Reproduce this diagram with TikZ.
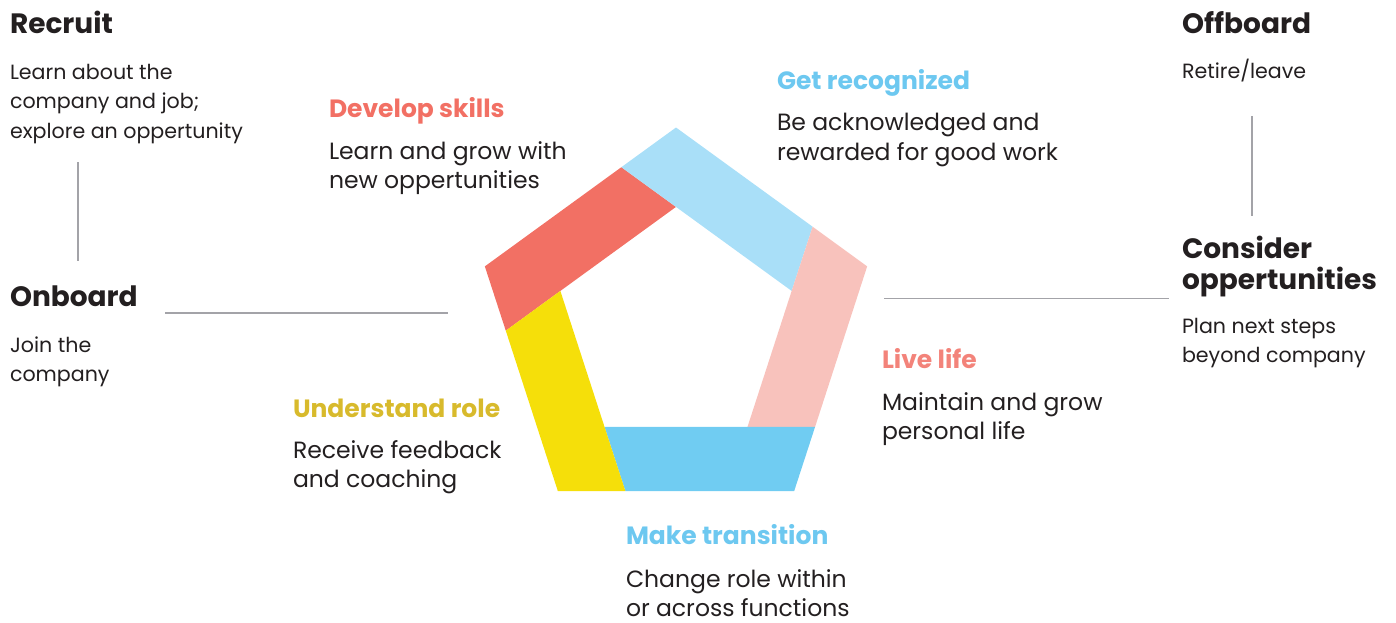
\documentclass[tikz,border=0pt]{standalone}
\usepackage{fontspec}
\setmainfont{Poppins}
\definecolor{ink}{HTML}{231F20}
\definecolor{rulegray}{HTML}{A3A3A8}
\definecolor{coral}{HTML}{F27064}
\definecolor{skyband}{HTML}{A9DFF8}
\definecolor{blush}{HTML}{F8C2BC}
\definecolor{azure}{HTML}{70CCF2}
\definecolor{lemon}{HTML}{F5DF0A}
\definecolor{mustard}{HTML}{D8BA2C}
\definecolor{salmon}{HTML}{F3837A}
\definecolor{skytext}{HTML}{6DC8F0}
\newcommand{\stack}[1]{\begin{tabular}[t]{@{}l@{}}#1\end{tabular}}
\begin{document}
\begin{tikzpicture}[x=1pt,y=-1pt,
  lbl/.style={anchor=base west, inner sep=0pt, outer sep=0pt, text=ink},
  bigtitle/.style={lbl, font=\fontsize{28}{28.5}\selectfont\bfseries},
  smalltext/.style={lbl, font=\fontsize{20.6}{29.5}\selectfont},
  stagetitle/.style={lbl, font=\fontsize{25}{25}\selectfont\bfseries},
  stagetext/.style={lbl, font=\fontsize{23.5}{29.5}\selectfont},
  link/.style={draw=rulegray, line width=1.8pt}]
\useasboundingbox (0,0) rectangle (1396,623);

% outer pentagon
\coordinate (OT)  at (676,127.5);
\coordinate (OR)  at (867.16,266.39);
\coordinate (OBR) at (794.15,491.11);
\coordinate (OBL) at (557.85,491.11);
\coordinate (OL)  at (484.84,266.39);
% inner pentagon
\coordinate (IT)  at (676,206.9);
\coordinate (IR)  at (791.65,290.92);
\coordinate (IBR) at (747.48,426.88);
\coordinate (IBL) at (604.52,426.88);
\coordinate (IL)  at (560.35,290.92);
% each inner edge extended until it meets the outer rim
\coordinate (P1) at (intersection of IR--IT and OL--OT);
\coordinate (P2) at (intersection of IBR--IR and OT--OR);
\coordinate (P3) at (intersection of IBL--IBR and OR--OBR);
\coordinate (P4) at (intersection of IL--IBL and OBR--OBL);
\coordinate (P5) at (intersection of IT--IL and OBL--OL);

% pinwheel bands
\fill[coral]   (P5) -- (OL)  -- (P1) -- (IT)  -- (IL)  -- cycle;
\fill[skyband] (P1) -- (OT)  -- (P2) -- (IR)  -- (IT)  -- cycle;
\fill[blush]   (P2) -- (OR)  -- (P3) -- (IBR) -- (IR)  -- cycle;
\fill[azure]   (P3) -- (OBR) -- (P4) -- (IBL) -- (IBR) -- cycle;
\fill[lemon]   (P4) -- (OBL) -- (P5) -- (IL)  -- (IBL) -- cycle;

% outer stages
\node[bigtitle]  (recruit)    at (10,33.3)  {Recruit};
\node[smalltext] (recruitTxt) at (10,79.3)  {\stack{Learn about the\\company and job;\\explore an oppertunity}};
\node[bigtitle]  (onboard)    at (10,306.7) {Onboard};
\node[smalltext] (onboardTxt) at (10,352.3) {\stack{Join the\\company}};
\node[bigtitle]  (offboard)   at (1182,33.3) {Offboard};
\node[smalltext] (offboardTxt) at (1182,78.3) {Retire/leave};
\node[bigtitle]  (consider)   at (1182,258.3) {\stack{Consider\\oppertunities}};
\node[smalltext] (considerTxt) at (1182,333.3) {\stack{Plan next steps\\beyond company}};

% stages around the pentagon
\node[stagetitle, text=coral]   (develop)    at (329,117.3) {Develop skills};
\node[stagetext]                (developTxt) at (329,159.3) {\stack{Learn and grow with\\new oppertunities}};
\node[stagetitle, text=skytext] (recog)      at (777,90)    {Get recognized};
\node[stagetext]                (recogTxt)   at (777,130.7) {\stack{Be acknowledged and\\rewarded for good work}};
\node[stagetitle, text=salmon]  (live)       at (882,368.3) {Live life};
\node[stagetext]                (liveTxt)    at (882,410)   {\stack{Maintain and grow\\personal life}};
\node[stagetitle, text=mustard] (underst)    at (293,417.3) {Understand role};
\node[stagetext]                (understTxt) at (293,458.3) {\stack{Receive feedback\\and coaching}};
\node[stagetitle, text=skytext] (trans)      at (626,544.3) {Make transition};
\node[stagetext]                (transTxt)   at (626,587)   {\stack{Change role within\\or across functions}};

% connecting rules
\coordinate (a1) at (78,162);    \coordinate (a2) at (78,261);
\coordinate (b1) at (165,313);   \coordinate (b2) at (448,313);
\coordinate (c1) at (1252,116);  \coordinate (c2) at (1252,216);
\coordinate (d1) at (884,298.5); \coordinate (d2) at (1169,298.5);
\draw[link] (a1) -- (a2);
\draw[link] (b1) -- (b2);
\draw[link] (c1) -- (c2);
\draw[link] (d1) -- (d2);
\end{tikzpicture}
\end{document}
